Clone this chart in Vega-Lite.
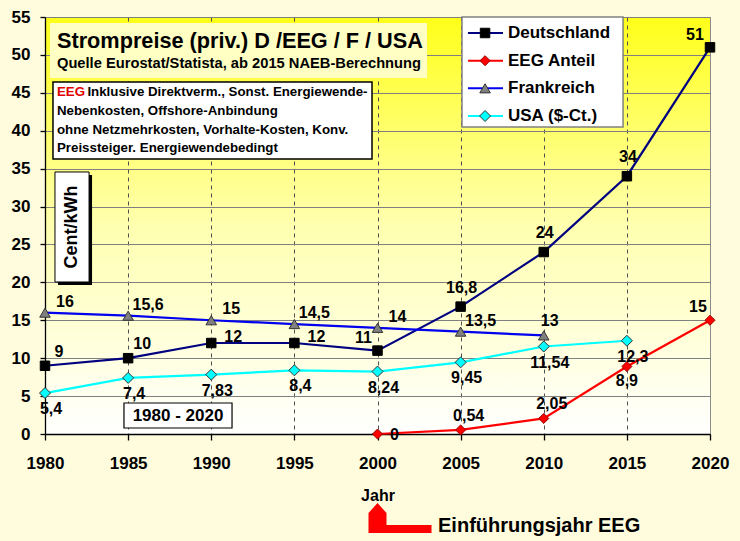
{
  "$schema": "https://vega.github.io/schema/vega-lite/v6.json",
  "width": 665,
  "height": 417,
  "autosize": {"type": "none"},
  "padding": {"left": 45, "top": 17, "right": 30, "bottom": 107},
  "background": "#FFFBDD",
  "config": {
    "font": "Liberation Sans",
    "locale": {"number": {"decimal": ",", "thousands": ".", "grouping": [3], "currency": ["", " €"]}},
    "view": {
      "fill": {"gradient": "linear", "x1": 0, "y1": 0, "x2": 0, "y2": 1,
        "stops": [{"offset": 0, "color": "#FFFF1A"}, {"offset": 0.5, "color": "#FFFFB0"}, {"offset": 1, "color": "#FFFFFF"}]},
      "stroke": "#8C8C8C", "strokeWidth": 1
    },
    "axis": {"labelFontWeight": "bold", "labelColor": "#000000", "labelFontSize": 17, "domainColor": "#000000", "tickColor": "#000000", "domainWidth": 1.3, "tickWidth": 1.3, "titleFontWeight": "bold", "titleColor": "#000000", "labelFlush": false},
    "axisY": {"tickSize": 5, "labelPadding": 10, "gridColor": "#808080", "gridWidth": 1, "labelOverlap": false, "tickCount": 12},
    "text": {"fontWeight": "bold", "color": "#000000"}
  },
  "datasets": {
    "prices": [
      {"series": "Deutschland", "year": 1980, "value": 9},
      {"series": "Deutschland", "year": 1985, "value": 10},
      {"series": "Deutschland", "year": 1990, "value": 12},
      {"series": "Deutschland", "year": 1995, "value": 12},
      {"series": "Deutschland", "year": 2000, "value": 11},
      {"series": "Deutschland", "year": 2005, "value": 16.8},
      {"series": "Deutschland", "year": 2010, "value": 24},
      {"series": "Deutschland", "year": 2015, "value": 34},
      {"series": "Deutschland", "year": 2020, "value": 51},
      {"series": "EEG Anteil", "year": 2000, "value": 0},
      {"series": "EEG Anteil", "year": 2005, "value": 0.54},
      {"series": "EEG Anteil", "year": 2010, "value": 2.05},
      {"series": "EEG Anteil", "year": 2015, "value": 8.9},
      {"series": "EEG Anteil", "year": 2020, "value": 15},
      {"series": "Frankreich", "year": 1980, "value": 16},
      {"series": "Frankreich", "year": 1985, "value": 15.6},
      {"series": "Frankreich", "year": 1990, "value": 15},
      {"series": "Frankreich", "year": 1995, "value": 14.5},
      {"series": "Frankreich", "year": 2000, "value": 14},
      {"series": "Frankreich", "year": 2005, "value": 13.5},
      {"series": "Frankreich", "year": 2010, "value": 13},
      {"series": "USA ($-Ct.)", "year": 1980, "value": 5.4},
      {"series": "USA ($-Ct.)", "year": 1985, "value": 7.4},
      {"series": "USA ($-Ct.)", "year": 1990, "value": 7.83},
      {"series": "USA ($-Ct.)", "year": 1995, "value": 8.4},
      {"series": "USA ($-Ct.)", "year": 2000, "value": 8.24},
      {"series": "USA ($-Ct.)", "year": 2005, "value": 9.45},
      {"series": "USA ($-Ct.)", "year": 2010, "value": 11.54},
      {"series": "USA ($-Ct.)", "year": 2015, "value": 12.3}
    ],
    "legendItems": [
      {"series": "Deutschland"},
      {"series": "EEG Anteil"},
      {"series": "Frankreich"},
      {"series": "USA ($-Ct.)"}
    ],
    "one": [{}]
  },
  "layer": [
    {
      "layer": [
        {
          "data": {"name": "prices"},
          "mark": {"type": "line", "strokeWidth": 2.2},
          "encoding": {
            "x": {"field": "year", "type": "quantitative", "scale": {"domain": [1980, 2020], "nice": false, "zero": false},
              "axis": {"values": [1980, 1985, 1990, 1995, 2000, 2005, 2010, 2015, 2020], "format": "d", "title": "Jahr", "titleFontSize": 16, "titlePadding": 16,
                "grid": true, "gridDash": [4, 4], "gridColor": "#505050", "gridWidth": 1, "labelFlush": false,
                "gridOpacity": {"condition": {"test": "datum.value == 1980 || datum.value == 2020", "value": 0}, "value": 1},
                "tickSize": 6, "labelPadding": 15}},
            "y": {"field": "value", "type": "quantitative", "scale": {"domain": [0, 55], "nice": false, "zero": true},
              "axis": {"values": [0, 5, 10, 15, 20, 25, 30, 35, 40, 45, 50, 55], "tickCount": 12, "labelOverlap": false, "labelFlush": false, "title": null, "grid": true, "gridColor": "#808080", "gridWidth": 1, "tickSize": 5, "labelPadding": 10}},
            "color": {"field": "series", "type": "nominal", "legend": null,
              "scale": {"domain": ["Deutschland", "EEG Anteil", "Frankreich", "USA ($-Ct.)"], "range": ["#000080", "#FF0000", "#0000EE", "#00FFFF"]}}
          }
        },
        {
          "data": {"name": "prices"},
          "mark": {"type": "point", "filled": true, "opacity": 1, "strokeWidth": 1},
          "encoding": {
            "x": {"field": "year", "type": "quantitative"},
            "y": {"field": "value", "type": "quantitative"},
            "shape": {"field": "series", "type": "nominal", "legend": null,
              "scale": {"domain": ["Deutschland", "EEG Anteil", "Frankreich", "USA ($-Ct.)"], "range": ["square", "diamond", "triangle-up", "diamond"]}},
            "fill": {"field": "series", "type": "nominal", "legend": null,
              "scale": {"domain": ["Deutschland", "EEG Anteil", "Frankreich", "USA ($-Ct.)"], "range": ["#000000", "#FF0000", "#808080", "#00FFFF"]}},
            "stroke": {"field": "series", "type": "nominal", "legend": null,
              "scale": {"domain": ["Deutschland", "EEG Anteil", "Frankreich", "USA ($-Ct.)"], "range": ["#000000", "#990000", "#333333", "#333333"]}},
            "size": {"field": "series", "type": "ordinal", "legend": null,
              "scale": {"domain": ["Deutschland", "EEG Anteil", "Frankreich", "USA ($-Ct.)"], "range": [90, 121, 150, 121]}}
          }
        },
        {
          "data": {"name": "prices"},
          "transform": [{"filter": "datum.series == 'Deutschland' && datum.year <= 1985"}],
          "mark": {"type": "text", "dx": 14, "dy": -14, "fontSize": 16},
          "encoding": {"x": {"field": "year", "type": "quantitative"}, "y": {"field": "value", "type": "quantitative"}, "text": {"field": "value", "type": "quantitative", "format": ".2~f"}}
        },
        {
          "data": {"name": "prices"},
          "transform": [{"filter": "datum.series == 'Deutschland' && (datum.year == 1990 || datum.year == 1995)"}],
          "mark": {"type": "text", "dx": 22, "dy": -6, "fontSize": 16},
          "encoding": {"x": {"field": "year", "type": "quantitative"}, "y": {"field": "value", "type": "quantitative"}, "text": {"field": "value", "type": "quantitative", "format": ".2~f"}}
        },
        {
          "data": {"name": "prices"},
          "transform": [{"filter": "datum.series == 'Deutschland' && datum.year == 2000"}],
          "mark": {"type": "text", "dx": -14, "dy": -13, "fontSize": 16},
          "encoding": {"x": {"field": "year", "type": "quantitative"}, "y": {"field": "value", "type": "quantitative"}, "text": {"field": "value", "type": "quantitative", "format": ".2~f"}}
        },
        {
          "data": {"name": "prices"},
          "transform": [{"filter": "datum.series == 'Deutschland' && datum.year >= 2005 && datum.year <= 2015"}],
          "mark": {"type": "text", "dx": 1, "dy": -19, "fontSize": 16},
          "encoding": {"x": {"field": "year", "type": "quantitative"}, "y": {"field": "value", "type": "quantitative"}, "text": {"field": "value", "type": "quantitative", "format": ".2~f"}}
        },
        {
          "data": {"name": "prices"},
          "transform": [{"filter": "datum.series == 'Deutschland' && datum.year == 2020"}],
          "mark": {"type": "text", "dx": -15, "dy": -12, "fontSize": 16},
          "encoding": {"x": {"field": "year", "type": "quantitative"}, "y": {"field": "value", "type": "quantitative"}, "text": {"field": "value", "type": "quantitative", "format": ".2~f"}}
        },
        {
          "data": {"name": "prices"},
          "transform": [{"filter": "datum.series == 'Frankreich' && datum.year <= 2005"}],
          "mark": {"type": "text", "dx": 20, "dy": -11, "fontSize": 16},
          "encoding": {"x": {"field": "year", "type": "quantitative"}, "y": {"field": "value", "type": "quantitative"}, "text": {"field": "value", "type": "quantitative", "format": ".2~f"}}
        },
        {
          "data": {"name": "prices"},
          "transform": [{"filter": "datum.series == 'Frankreich' && datum.year == 2010"}],
          "mark": {"type": "text", "dx": 6, "dy": -14, "fontSize": 16},
          "encoding": {"x": {"field": "year", "type": "quantitative"}, "y": {"field": "value", "type": "quantitative"}, "text": {"field": "value", "type": "quantitative", "format": ".2~f"}}
        },
        {
          "data": {"name": "prices"},
          "transform": [{"filter": "datum.series == 'USA ($-Ct.)'"}],
          "mark": {"type": "text", "dx": 6, "dy": 16, "fontSize": 16},
          "encoding": {"x": {"field": "year", "type": "quantitative"}, "y": {"field": "value", "type": "quantitative"}, "text": {"field": "value", "type": "quantitative", "format": ".2~f"}}
        },
        {
          "data": {"name": "prices"},
          "transform": [{"filter": "datum.series == 'EEG Anteil' && datum.year == 2000"}],
          "mark": {"type": "text", "dx": 17, "dy": 1, "fontSize": 16},
          "encoding": {"x": {"field": "year", "type": "quantitative"}, "y": {"field": "value", "type": "quantitative"}, "text": {"field": "value", "type": "quantitative", "format": ".2~f"}}
        },
        {
          "data": {"name": "prices"},
          "transform": [{"filter": "datum.series == 'EEG Anteil' && (datum.year == 2005 || datum.year == 2010)"}],
          "mark": {"type": "text", "dx": 8, "dy": -14, "fontSize": 16},
          "encoding": {"x": {"field": "year", "type": "quantitative"}, "y": {"field": "value", "type": "quantitative"}, "text": {"field": "value", "type": "quantitative", "format": ".2~f"}}
        },
        {
          "data": {"name": "prices"},
          "transform": [{"filter": "datum.series == 'EEG Anteil' && datum.year == 2015"}],
          "mark": {"type": "text", "dx": 0, "dy": 14, "fontSize": 16},
          "encoding": {"x": {"field": "year", "type": "quantitative"}, "y": {"field": "value", "type": "quantitative"}, "text": {"field": "value", "type": "quantitative", "format": ".2~f"}}
        },
        {
          "data": {"name": "prices"},
          "transform": [{"filter": "datum.series == 'EEG Anteil' && datum.year == 2020"}],
          "mark": {"type": "text", "dx": -12, "dy": -13, "fontSize": 16},
          "encoding": {"x": {"field": "year", "type": "quantitative"}, "y": {"field": "value", "type": "quantitative"}, "text": {"field": "value", "type": "quantitative", "format": ".2~f"}}
        },
        {
          "data": {"name": "one"},
          "mark": {"type": "rect", "fill": "#FFFFC4"},
          "encoding": {"x": {"datum": 1980.30}, "x2": {"datum": 2002.98}, "y": {"datum": 54.21}, "y2": {"datum": 46.95}}
        },
        {
          "data": {"name": "one"},
          "mark": {"type": "rect", "fill": "#FFFFFF", "stroke": "#000000", "strokeWidth": 1.5},
          "encoding": {"x": {"datum": 1980.48}, "x2": {"datum": 1999.67}, "y": {"datum": 46.43}, "y2": {"datum": 36.27}}
        },
        {
          "data": {"name": "one"},
          "mark": {"type": "rect", "fill": "#000000"},
          "encoding": {"x": {"datum": 1980.78}, "x2": {"datum": 1982.83}, "y": {"datum": 34.16}, "y2": {"datum": 19.65}}
        },
        {
          "data": {"name": "one"},
          "mark": {"type": "rect", "fill": "#FFFFFF", "stroke": "#000000", "strokeWidth": 1},
          "encoding": {"x": {"datum": 1980.60}, "x2": {"datum": 1982.65}, "y": {"datum": 34.56}, "y2": {"datum": 20.05}}
        },
        {
          "data": {"name": "one"},
          "mark": {"type": "rect", "fill": "#FFFFFF", "stroke": "#000000", "strokeWidth": 1.2},
          "encoding": {"x": {"datum": 1984.75}, "x2": {"datum": 1991.25}, "y": {"datum": 4.09}, "y2": {"datum": 0.79}}
        },
        {
          "data": {"name": "one"},
          "mark": {"type": "rect", "fill": "#FFFFFF", "stroke": "#808080", "strokeWidth": 1.5},
          "encoding": {"x": {"datum": 2005.08}, "x2": {"datum": 2014.77}, "y": {"datum": 55}, "y2": {"datum": 40.49}}
        },
        {
          "data": {"name": "one"},
          "mark": {"type": "text", "text": "Strompreise (priv.) D /EEG / F / USA", "align": "left", "baseline": "alphabetic", "fontSize": 21.7},
          "encoding": {"x": {"datum": 1980.72}, "y": {"datum": 50.91}}
        },
        {
          "data": {"name": "one"},
          "mark": {"type": "text", "text": "Quelle Eurostat/Statista, ab 2015 NAEB-Berechnung", "align": "left", "baseline": "alphabetic", "fontSize": 14.7},
          "encoding": {"x": {"datum": 1980.72}, "y": {"datum": 48.27}}
        },
        {
          "data": {"name": "one"},
          "mark": {"type": "text", "text": "EEG", "align": "left", "baseline": "alphabetic", "fontSize": 13.3, "color": "#E00000"},
          "encoding": {"x": {"datum": 1980.72}, "y": {"datum": 44.58}}
        },
        {
          "data": {"name": "one"},
          "mark": {"type": "text", "text": "Inklusive Direktverm., Sonst. Energiewende-", "align": "left", "baseline": "alphabetic", "fontSize": 13.3},
          "encoding": {"x": {"datum": 1982.55}, "y": {"datum": 44.58}}
        },
        {
          "data": {"name": "one"},
          "mark": {"type": "text", "text": ["Nebenkosten, Offshore-Anbindung", "ohne Netzmehrkosten, Vorhalte-Kosten, Konv.", "Preissteiger. Energiewendebedingt"], "lineHeight": 18.7, "align": "left", "baseline": "alphabetic", "fontSize": 13.3},
          "encoding": {"x": {"datum": 1980.72}, "y": {"datum": 42.07}}
        },
        {
          "data": {"name": "one"},
          "mark": {"type": "text", "text": "Cent/kWh", "angle": 270, "align": "center", "baseline": "middle", "fontSize": 18},
          "encoding": {"x": {"datum": 1981.62}, "y": {"datum": 27.30}}
        },
        {
          "data": {"name": "one"},
          "mark": {"type": "text", "text": "1980 - 2020", "align": "center", "baseline": "middle", "fontSize": 17},
          "encoding": {"x": {"datum": 1988.0}, "y": {"datum": 2.37}}
        },
        {
          "data": {"name": "one"},
          "mark": {"type": "point", "shape": "M0,-30L9,-20L9,-8L54,-8L54,0L-9,0L-9,-20Z", "size": 4, "filled": true, "opacity": 1, "color": "#FF0000", "strokeWidth": 0},
          "encoding": {"x": {"datum": 2000}, "y": {"datum": -13.06}}
        },
        {
          "data": {"name": "one"},
          "mark": {"type": "text", "text": "Einführungsjahr EEG", "align": "left", "baseline": "alphabetic", "fontSize": 20},
          "encoding": {"x": {"datum": 2003.64}, "y": {"datum": -12.93}}
        }
      ]
    },
    {
      "layer": [
        {
          "data": {"name": "legendItems"},
          "mark": {"type": "rule", "strokeWidth": 2},
          "encoding": {
            "x": {"datum": 2005.44}, "x2": {"datum": 2007.55},
            "y": {"field": "series", "type": "nominal", "axis": null, "scale": {"type": "point", "domain": ["Deutschland", "EEG Anteil", "Frankreich", "USA ($-Ct.)"], "range": [16, 99], "padding": 0}},
            "color": {"field": "series", "type": "nominal", "legend": null}
          }
        },
        {
          "data": {"name": "legendItems"},
          "mark": {"type": "point", "filled": true, "opacity": 1, "strokeWidth": 1},
          "encoding": {
            "x": {"datum": 2006.47},
            "y": {"field": "series", "type": "nominal", "axis": null},
            "shape": {"field": "series", "type": "nominal", "legend": null},
            "fill": {"field": "series", "type": "nominal", "legend": null},
            "stroke": {"field": "series", "type": "nominal", "legend": null},
            "size": {"field": "series", "type": "ordinal", "legend": null}
          }
        },
        {
          "data": {"name": "legendItems"},
          "mark": {"type": "text", "align": "left", "baseline": "middle", "fontSize": 17},
          "encoding": {
            "x": {"datum": 2007.85},
            "y": {"field": "series", "type": "nominal", "axis": null},
            "text": {"field": "series", "type": "nominal"}
          }
        }
      ]
    }
  ],
  "resolve": {"scale": {"y": "independent"}}
}
